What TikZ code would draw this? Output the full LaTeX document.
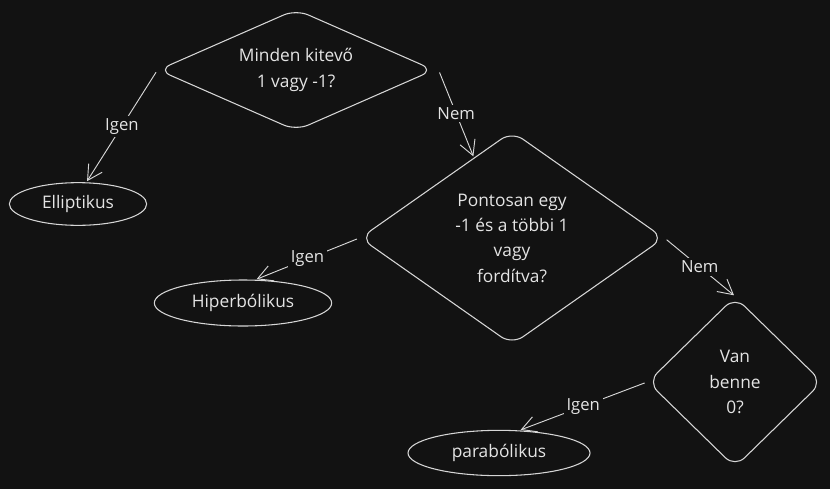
\documentclass[tikz,border=0pt]{standalone}
\usepackage{fontspec}
\setmainfont{Open Sans}
\usepackage{tikz}
\usetikzlibrary{positioning,arrows.meta,shapes.geometric,calc}
\usepackage{xcolor}
\definecolor{BgDark}{RGB}{18,18,18}
\definecolor{LineLight}{RGB}{214,214,214}
\definecolor{TextLight}{RGB}{228,228,228}

\begin{document}
\begin{tikzpicture}[
    on grid,
    question/.style={diamond, rounded corners=10pt, draw=LineLight, line width=0.8pt,
        inner sep=0pt, align=center, text=TextLight, font=\fontsize{13}{19}\selectfont},
    result/.style={ellipse, draw=LineLight, line width=0.8pt, inner sep=0pt,
        text=TextLight, font=\fontsize{13}{19}\selectfont},
    flow/.style={draw=LineLight, line width=0.7pt, -{Straight Barb[length=11pt,width=12pt]},
        shorten <=2pt, shorten >=1pt},
    answer/.style={fill=BgDark, inner sep=2pt, text=TextLight, font=\fontsize{12.5}{14}\selectfont},
]
\fill[BgDark] (0,0) rectangle (622.5pt,-366.75pt);
\useasboundingbox (0,0) rectangle (622.5pt,-366.75pt);

% questions
\node[question, minimum width=207pt, minimum height=91pt, aspect=2.3] (q1) at (222pt,-52.5pt)
    {Minden kitevő\\1 vagy -1?};
\node[question, minimum width=228pt, minimum height=160pt, aspect=1.42,
    below right=126pt and 162pt of q1] (q2) {Pontosan egy\\-1 és a többi 1\\vagy\\fordítva?};
\node[question, minimum width=131pt, minimum height=128pt, aspect=1,
    below right=108pt and 167.25pt of q2] (q3) {Van\\benne\\0?};

% results
\node[result, minimum width=103pt, minimum height=32pt,
    below left=100.5pt and 163.5pt of q1] (ell) {Elliptikus};
\node[result, minimum width=133pt, minimum height=34.5pt,
    below left=48.75pt and 201.75pt of q2] (hip) {Hiperbólikus};
\node[result, minimum width=136.5pt, minimum height=34pt,
    below left=53.25pt and 177pt of q3] (par) {parabólikus};

% connectors
\draw[flow] (q1.west) -- node[answer] {Igen} (ell.69);
\draw[flow] ([xshift=3pt]q1.east) -- node[answer] {Nem} ($(q2.north)!0.25!(q2.west)$);
\draw[flow] (q2.west) -- node[answer] {Igen} (hip.62);
\draw[flow] (q2.east) -- node[answer] {Nem} (q3.north);
\draw[flow] (q3.west) -- node[answer] {Igen} (par.48);
\end{tikzpicture}
\end{document}
